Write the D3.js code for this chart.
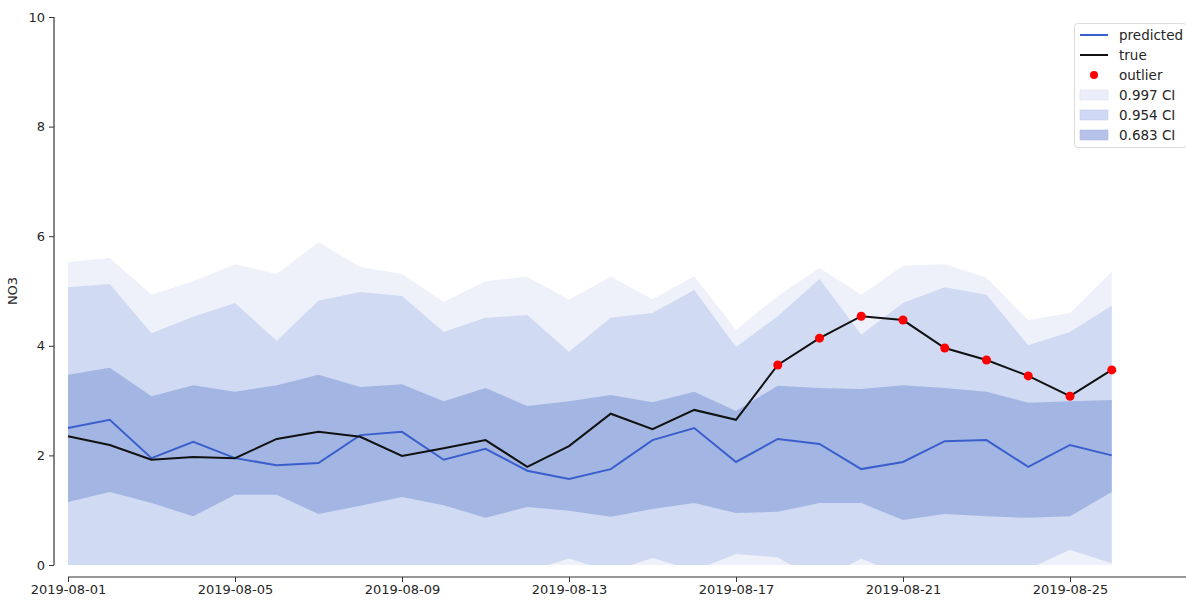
<!DOCTYPE html>
<html><head><meta charset="utf-8">
<script src="https://cdn.jsdelivr.net/npm/d3@7"></script>
<style>body{margin:0;background:#fff;}svg{display:block;font-family:"DejaVu Sans",sans-serif;}</style>
</head><body><svg id="c" width="1186" height="602"></svg>
<script>
const dates = ["2019-08-01","2019-08-02","2019-08-03","2019-08-04","2019-08-05","2019-08-06","2019-08-07","2019-08-08","2019-08-09","2019-08-10","2019-08-11","2019-08-12","2019-08-13","2019-08-14","2019-08-15","2019-08-16","2019-08-17","2019-08-18","2019-08-19","2019-08-20","2019-08-21","2019-08-22","2019-08-23","2019-08-24","2019-08-25","2019-08-26"];
const predicted = [2.50,2.65,1.95,2.25,1.95,1.82,1.86,2.37,2.43,1.92,2.12,1.72,1.57,1.75,2.28,2.50,1.88,2.30,2.21,1.75,1.88,2.26,2.28,1.79,2.19,2.00];
const trueVals = [2.35,2.19,1.92,1.97,1.95,2.30,2.43,2.34,1.99,2.13,2.28,1.79,2.17,2.76,2.48,2.83,2.65,3.65,4.14,4.54,4.47,3.96,3.74,3.45,3.08,3.56];
const outlierDates = ["2019-08-18","2019-08-19","2019-08-20","2019-08-21","2019-08-22","2019-08-23","2019-08-24","2019-08-25","2019-08-26"];
const outlierVals = [3.65,4.14,4.54,4.47,3.96,3.74,3.45,3.08,3.56];
const ci683Upper = [3.47,3.60,3.08,3.28,3.16,3.28,3.47,3.25,3.30,2.99,3.23,2.90,2.99,3.10,2.97,3.16,2.81,3.27,3.23,3.21,3.28,3.23,3.16,2.96,2.99,3.01];
const ci683Lower = [1.15,1.33,1.13,0.89,1.28,1.28,0.93,1.08,1.24,1.09,0.86,1.06,0.99,0.88,1.02,1.13,0.95,0.97,1.13,1.13,0.82,0.93,0.89,0.86,0.89,1.33];
const ci954Upper = [5.07,5.13,4.23,4.53,4.78,4.09,4.82,4.98,4.91,4.25,4.51,4.56,3.89,4.51,4.60,5.02,3.98,4.54,5.22,4.20,4.78,5.07,4.93,4.01,4.25,4.73];
const ci954Lower = [-0.40,-0.30,-0.50,-0.60,-0.40,-0.30,-0.50,-0.30,-0.20,-0.40,-0.30,-0.12,0.12,-0.12,0.13,-0.10,0.20,0.14,-0.30,0.12,-0.20,-0.20,-0.20,-0.07,0.28,0.03];
const ci997Upper = [5.53,5.60,4.93,5.18,5.49,5.31,5.89,5.44,5.31,4.80,5.18,5.26,4.84,5.26,4.85,5.27,4.29,4.91,5.42,4.93,5.46,5.49,5.24,4.47,4.60,5.35];
const ci997Lower = [-1.2,-1.1,-1.3,-1.4,-1.2,-1.1,-1.3,-1.1,-1.0,-1.2,-1.1,-0.9,-0.7,-0.9,-0.7,-0.9,-0.6,-0.7,-1.1,-0.7,-1.0,-1.0,-1.0,-0.9,-0.5,-0.8];
const yTicks = [0,2,4,6,8,10];
const xTickLabels = ["2019-08-01","2019-08-05","2019-08-09","2019-08-13","2019-08-17","2019-08-21","2019-08-25"];

const parse = d3.utcParse("%Y-%m-%d");
const svg = d3.select("#c");
const x = d3.scaleUtc().domain([parse("2019-08-01"), parse("2019-08-28")]).range([68, 68 + 27*41.75]);
const y = d3.scaleLinear().domain([0,10]).range([565,17]);

svg.append("defs").append("clipPath").attr("id","clip")
  .append("rect").attr("x",54).attr("y",17).attr("width",1132).attr("height",548);

const g = svg.append("g").attr("clip-path","url(#clip)");
const idx = d3.range(dates.length);
const band = (lo, hi) => d3.area().x(i => x(parse(dates[i]))).y0(i => y(lo[i])).y1(i => y(hi[i]));
g.append("path").datum(idx).attr("d", band(ci997Lower, ci997Upper)).attr("fill","#eef0fa");
g.append("path").datum(idx).attr("d", band(ci954Lower, ci954Upper)).attr("fill","#d0daf2");
g.append("path").datum(idx).attr("d", band(ci683Lower, ci683Upper)).attr("fill","#a3b6e3");

const line = vals => d3.line().x(i => x(parse(dates[i]))).y(i => y(vals[i]));
g.append("path").datum(idx).attr("d", line(predicted)).attr("fill","none").attr("stroke","#3a5fcd").attr("stroke-width",2);
g.append("path").datum(idx).attr("d", line(trueVals)).attr("fill","none").attr("stroke","#111").attr("stroke-width",2);
svg.append("g").selectAll("circle").data(outlierDates).join("circle")
  .attr("cx", (d)=>x(parse(d))).attr("cy", (d,i)=>y(outlierVals[i])).attr("r",4.5).attr("fill","#ff0000");

// axes
const yAxis = d3.axisLeft(y).tickValues(yTicks).tickSize(5).tickPadding(4);
const ya = svg.append("g").attr("transform","translate(54,0)").call(yAxis);
const xAxis = d3.axisBottom(x).tickValues(xTickLabels.map(parse)).tickFormat(d3.utcFormat("%Y-%m-%d")).tickSize(5).tickPadding(3);
const xa = svg.append("g").attr("transform","translate(0,577)").call(xAxis);
[ya, xa].forEach(a => {
  a.select(".domain").attr("stroke","#333").attr("stroke-width",1.2);
  a.selectAll(".tick line").attr("stroke","#333").attr("stroke-width",1);
  a.selectAll("text").attr("fill","#262626").style("font-size","13px").style("font-family","DejaVu Sans");
});
ya.select(".domain").attr("d","M0,17V565");
xa.select(".domain").attr("d","M68,0H1186");
svg.append("text").attr("transform","translate(17,291) rotate(-90)").attr("text-anchor","middle")
  .style("font-size","13px").attr("fill","#262626").text("NO3");

// legend
const lg = svg.append("g");
lg.append("rect").attr("x",1074.5).attr("y",23.5).attr("width",112).attr("height",124).attr("rx",3)
  .attr("fill","#fff").attr("fill-opacity",0.85).attr("stroke","#dcdcdc");
const items = [
  {label:"predicted", type:"line", color:"#3a5fcd"},
  {label:"true", type:"line", color:"#111"},
  {label:"outlier", type:"dot", color:"#ff0000"},
  {label:"0.997 CI", type:"patch", color:"#ecedfa"},
  {label:"0.954 CI", type:"patch", color:"#cfd8f4"},
  {label:"0.683 CI", type:"patch", color:"#b6c2ea"}
];
items.forEach((it,i) => {
  const cy = 35 + i*20;
  if (it.type === "line") lg.append("line").attr("x1",1080).attr("x2",1108).attr("y1",cy).attr("y2",cy).attr("stroke",it.color).attr("stroke-width",2);
  else if (it.type === "dot") lg.append("circle").attr("cx",1094).attr("cy",cy).attr("r",4).attr("fill",it.color);
  else lg.append("rect").attr("x",1080).attr("y",cy-5).attr("width",28).attr("height",10).attr("fill",it.color).attr("stroke",d3.color(it.color).darker(0.15)).attr("stroke-width",0.6);
  lg.append("text").attr("x",1119).attr("y",cy+4.5).style("font-size","13.5px").attr("fill","#262626").text(it.label);
});
</script></body></html>
